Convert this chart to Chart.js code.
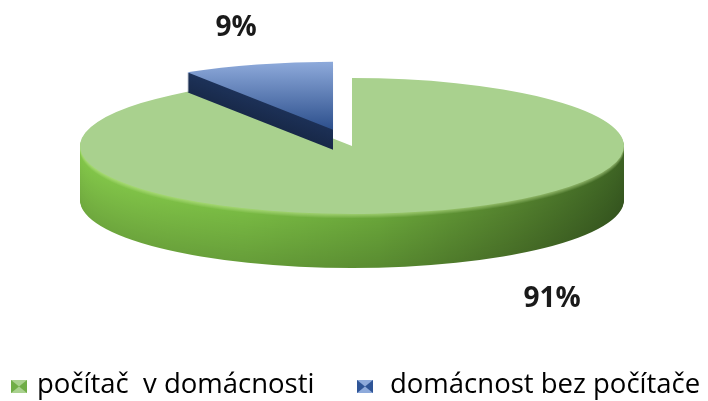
<!DOCTYPE html>
<html><head><meta charset="utf-8">
<script src="https://cdn.jsdelivr.net/npm/chart.js@4.4.1/dist/chart.umd.min.js"></script>
<style>html,body{margin:0;padding:0;background:#fff;} canvas{display:block}</style>
</head><body>
<canvas id="c" width="708" height="401"></canvas>
<script>
const categories = ['počítač  v domácnosti', 'domácnost bez počítače'];
const values = [91, 9];
const valueLabels = ['91%', '9%'];
const topColors = ['#A9D18E', '#4E74B5'];

// 3D projection / styling
const CX = 352, CY = 146, RX = 272, RY = 68;
const THICK = [54, 20];
const EXPLODE = [0, 0.25];
const sideStops = [
  [[0,[132,200,74]],[0.3,[122,188,68]],[0.55,[106,166,58]],[0.8,[84,130,46]],[1,[62,100,36]]],
  [[0,[30,52,92]],[1,[26,44,80]]]
];
function shade(c, f, hl){
  const w=[205,240,160];
  const r=c.map((v,k)=>Math.round(v*f*(1-hl)+w[k]*hl));
  return 'rgb('+r.join(',')+')';
}

const pie3d = {
  id: 'pie3d',
  beforeDatasetDraw(chart, args) {
    const ctx = chart.ctx;
    const arcs = args.meta.data;
    const R = arcs[0].outerRadius, x0 = arcs[0].x, y0 = arcs[0].y;
    const sx = RX / R, sy = RY / R;
    arcs.forEach((arc, i) => {
      const mid = (arc.startAngle + arc.endAngle) / 2;
      const ex = Math.cos(mid) * EXPLODE[i] * R, ey = Math.sin(mid) * EXPLODE[i] * R;
      const setT = (d) => { ctx.translate(CX, CY + d); ctx.scale(sx, sy); ctx.translate(-x0 + ex, -y0 + ey); };
      for (let d = THICK[i]; d >= 1; d--) {
        ctx.save(); setT(d);
        const g = ctx.createLinearGradient(x0 - R, 0, x0 + R, 0);
        const t = d / THICK[i];
        const f = 1 - 0.16 * t;
        const hl = (i === 0 && d <= 4) ? (5 - d) * 0.11 : 0;
        sideStops[i].forEach(([p, c]) => g.addColorStop(p, shade(c, f, hl)));
        ctx.fillStyle = g;
        ctx.beginPath();
        ctx.moveTo(arc.x, arc.y);
        ctx.arc(arc.x, arc.y, arc.outerRadius, arc.startAngle, arc.endAngle);
        ctx.closePath();
        ctx.fill();
        ctx.restore();
      }
      ctx.save(); setT(0); arc.draw(ctx); ctx.restore();
    });
    return false;
  },
  afterDraw(chart) {
    const ctx = chart.ctx;
    ctx.save();
    ctx.font = 'bold 28px "Open Sans"';
    ctx.fillStyle = '#1a1a1a';
    ctx.textAlign = 'center';
    ctx.textBaseline = 'middle';
    ctx.fillText(valueLabels[0], 552, 299);
    ctx.fillText(valueLabels[1], 236, 28);
    // legend
    const items = [{x: 11, tx: 37, c: [[169,209,142],[112,173,71],[80,130,50]]},
                   {x: 357, tx: 390, c: [[142,170,219],[47,85,151],[30,52,100]]}];
    ctx.textAlign = 'left';
    ctx.textBaseline = 'alphabetic';
    ctx.font = '27.5px "Open Sans"';
    items.forEach((it, i) => {
      const x = it.x, y = 380, w = 16, h = 13, mx = x + w/2, my = y + h/2;
      const col = c => 'rgb(' + c.join(',') + ')';
      ctx.fillStyle = col(it.c[0]);
      ctx.fillRect(x, y, w, h);
      ctx.fillStyle = col(it.c[1]);
      ctx.beginPath(); ctx.moveTo(x, y); ctx.lineTo(mx, my); ctx.lineTo(x, y + h); ctx.closePath(); ctx.fill();
      ctx.beginPath(); ctx.moveTo(x + w, y); ctx.lineTo(mx, my); ctx.lineTo(x + w, y + h); ctx.closePath(); ctx.fill();
      ctx.fillStyle = '#000';
      ctx.fillText(categories[i], it.tx, 393);
    });
    ctx.restore();
  }
};

new Chart(document.getElementById('c'), {
  type: 'pie',
  data: {
    labels: categories,
    datasets: [{
      data: values,
      borderWidth: 0,
      clip: false,
      backgroundColor: (c) => {
        const i = c.dataIndex;
        const area = c.chart.chartArea;
        if (i !== 1 || !area) return topColors[i] || topColors[0];
        const cy = (area.top + area.bottom) / 2, R = Math.min(area.width, area.height) / 2;
        const g = c.chart.ctx.createLinearGradient(0, cy - R, 0, cy);
        g.addColorStop(0, '#8EAADB');
        g.addColorStop(1, '#2C4F8C');
        return g;
      }
    }]
  },
  options: {
    responsive: false,
    animation: false,
    events: [],
    layout: { padding: 0 },
    plugins: { legend: { display: false }, tooltip: { enabled: false } }
  },
  plugins: [pie3d]
});
</script>
</body></html>
